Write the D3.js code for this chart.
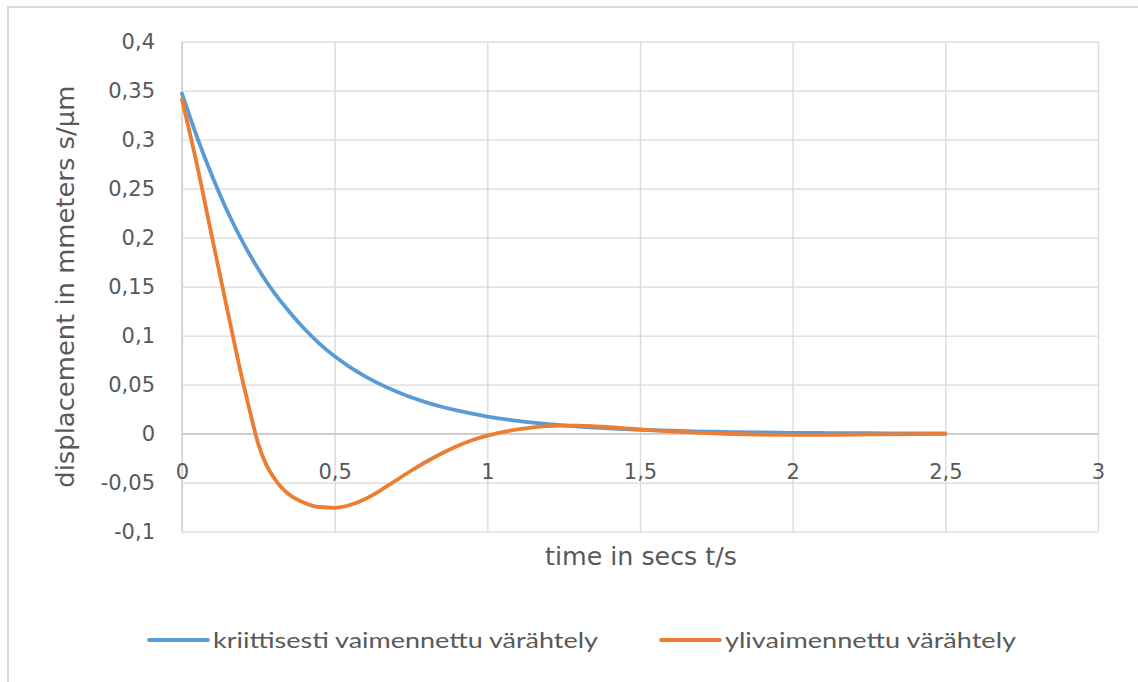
<!DOCTYPE html>
<html>
<head>
<meta charset="utf-8">
<script src="https://cdn.jsdelivr.net/npm/d3@7"></script>
<style>
  html, body { margin: 0; padding: 0; background: #fff; }
  svg { display: block; }
  text { fill: #595959; }
</style>
</head>
<body>
<svg id="chart" width="1138" height="682"></svg>
<script>
// Time samples (s)
const time = [0, 0.05, 0.1, 0.15, 0.2, 0.225, 0.25, 0.275, 0.3, 0.325, 0.35, 0.4, 0.45, 0.5, 0.55,
  0.6, 0.65, 0.7, 0.75, 0.8, 0.85, 0.9, 0.95, 1.0, 1.05, 1.1, 1.15, 1.2, 1.25, 1.3, 1.35,
  1.4, 1.45, 1.5, 1.6, 1.7, 1.8, 1.9, 2.0, 2.1, 2.2, 2.3, 2.4, 2.5];

// Critically damped displacement
const critical = [0.347, 0.302, 0.262, 0.226, 0.195, 0.181, 0.168, 0.1558, 0.1448, 0.1345, 0.125,
  0.1073, 0.092, 0.079, 0.068, 0.0585, 0.0503, 0.0433, 0.0372, 0.032, 0.0275, 0.0237, 0.0204,
  0.0175, 0.0151, 0.013, 0.0112, 0.0097, 0.0084, 0.0073, 0.0063, 0.0054, 0.0047, 0.0040,
  0.0030, 0.0022, 0.0016, 0.0012, 0.0009, 0.0007, 0.0005, 0.0004, 0.0003, 0.0002];

// Over-damped displacement
const overdamped = [0.341, 0.273, 0.198, 0.124, 0.052, 0.0195, -0.0106, -0.031, -0.0444, -0.0546,
  -0.0617, -0.0704, -0.0748, -0.0756, -0.0728, -0.0666, -0.0578, -0.0478, -0.0378, -0.0286,
  -0.0202, -0.0128, -0.0067, -0.002, 0.0017, 0.0045, 0.0065, 0.0077, 0.0082, 0.0081, 0.0075,
  0.0066, 0.0055, 0.0044, 0.0024, 0.0008, -0.0003, -0.0009, -0.0011, -0.0011, -0.0009, -0.0006,
  -0.0004, -0.0002];

const xTicks = [0, 0.5, 1, 1.5, 2, 2.5, 3];
const yTicks = [-0.1, -0.05, 0, 0.05, 0.1, 0.15, 0.2, 0.25, 0.3, 0.35, 0.4];

const seriesNames = ["kriittisesti vaimennettu värähtely", "ylivaimennettu värähtely"];
const seriesColors = ["#5B9BD5", "#ED7D31"];
const xTitle = "time in secs t/s";
const yTitle = "displacement in mmeters s/µm";

const fmt = v => String(+v.toFixed(2)).replace(".", ",");

const svg = d3.select("#chart");
const W = 1138, H = 682;
const plot = { left: 182, right: 1098, top: 41.7, bottom: 531.7 };

// Chart frame (only the top and left edges fall inside the view)
svg.append("rect")
  .attr("x", 8).attr("y", 7)
  .attr("width", W + 20).attr("height", H + 20)
  .attr("fill", "#fff")
  .attr("stroke", "#d9d9d9").attr("stroke-width", 2);

const x = d3.scaleLinear().domain([0, 3]).range([plot.left, plot.right]);
const y = d3.scaleLinear().domain([-0.1, 0.4]).range([plot.bottom, plot.top]);

const fontAxis = "'DejaVu Sans', 'Open Sans', sans-serif";

// Horizontal gridlines
svg.append("g")
  .attr("transform", `translate(${plot.left},0)`)
  .call(d3.axisLeft(y).tickValues(yTicks).tickSize(-(plot.right - plot.left)).tickFormat(""))
  .call(g => g.select(".domain").remove())
  .call(g => g.selectAll("line").attr("stroke", "#d9d9d9").attr("stroke-width", 1.3));

// Vertical gridlines
svg.append("g")
  .attr("transform", `translate(0,${plot.bottom})`)
  .call(d3.axisBottom(x).tickValues(xTicks).tickSize(-(plot.bottom - plot.top)).tickFormat(""))
  .call(g => g.select(".domain").remove())
  .call(g => g.selectAll("line").attr("stroke", "#d9d9d9").attr("stroke-width", 1.3));

// Axis lines: vertical at x=0, horizontal at y=0
svg.append("line")
  .attr("x1", x(0)).attr("x2", x(0)).attr("y1", plot.top).attr("y2", plot.bottom)
  .attr("stroke", "#d0d0d0").attr("stroke-width", 1.5);
svg.append("line")
  .attr("x1", plot.left).attr("x2", plot.right).attr("y1", y(0)).attr("y2", y(0))
  .attr("stroke", "#c8c8c8").attr("stroke-width", 1.5);

// Y tick labels
svg.append("g")
  .attr("transform", `translate(${plot.left},0)`)
  .call(d3.axisLeft(y).tickValues(yTicks).tickSize(0).tickPadding(27).tickFormat(fmt))
  .call(g => g.select(".domain").remove())
  .call(g => g.selectAll("text")
    .attr("font-family", fontAxis).attr("font-size", 21).style("fill", "#595959"));

// X tick labels sit just below the zero line
svg.append("g")
  .attr("transform", `translate(0,${y(0)})`)
  .call(d3.axisBottom(x).tickValues(xTicks).tickSize(0).tickPadding(30).tickFormat(fmt))
  .call(g => g.select(".domain").remove())
  .call(g => g.selectAll("text")
    .attr("font-family", fontAxis).attr("font-size", 21).style("fill", "#595959"));

// Axis titles
svg.append("text")
  .attr("x", (plot.left + plot.right) / 2 + 1).attr("y", 565)
  .attr("text-anchor", "middle")
  .attr("font-family", fontAxis).attr("font-size", 24)
  .attr("textLength", 192).attr("lengthAdjust", "spacingAndGlyphs")
  .text(xTitle);

svg.append("text")
  .attr("transform", `translate(74,${(plot.top + plot.bottom) / 2}) rotate(-90)`)
  .attr("text-anchor", "middle")
  .attr("font-family", fontAxis).attr("font-size", 24)
  .attr("textLength", 402).attr("lengthAdjust", "spacingAndGlyphs")
  .text(yTitle);

// Series lines
const line = d3.line()
  .x((d, i) => x(time[i]))
  .y(d => y(d))
  .curve(d3.curveMonotoneX);

[critical, overdamped].forEach((vals, k) => {
  svg.append("path")
    .datum(vals)
    .attr("d", line)
    .attr("fill", "none")
    .attr("stroke", seriesColors[k])
    .attr("stroke-width", 3.8)
    .attr("stroke-linecap", "round")
    .attr("stroke-linejoin", "round");
});

// Legend
const legendFont = "'Liberation Sans Narrow', 'Lato', 'Open Sans', sans-serif";
const legendItems = [
  { x0: 149, x1: 208, tx: 213, tw: 385 },
  { x0: 661, x1: 720, tx: 725, tw: 291 }
];
legendItems.forEach((it, k) => {
  svg.append("line")
    .attr("x1", it.x0).attr("x2", it.x1).attr("y1", 640).attr("y2", 640)
    .attr("stroke", seriesColors[k]).attr("stroke-width", 3.8)
    .attr("stroke-linecap", "round");
  svg.append("text")
    .attr("x", it.tx).attr("y", 648)
    .attr("font-family", legendFont).attr("font-size", 22)
    .attr("textLength", it.tw).attr("lengthAdjust", "spacingAndGlyphs")
    .text(seriesNames[k]);
});
</script>
</body>
</html>
